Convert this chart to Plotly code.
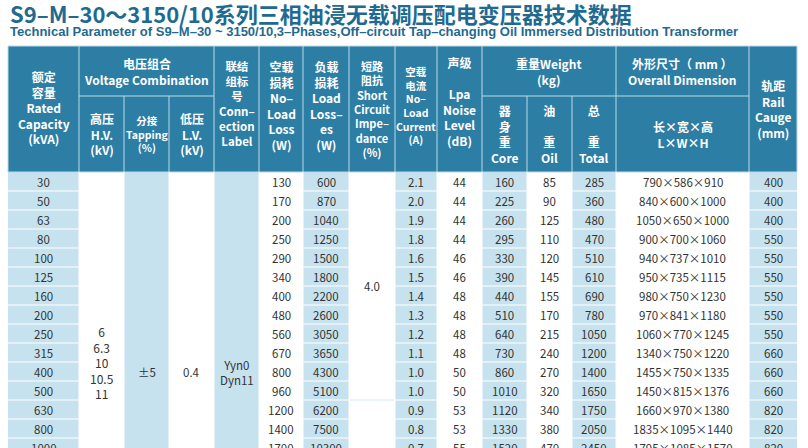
import plotly.graph_objects as go

title = "S9–M–30～3150/10系列三相油浸无载调压配电变压器技术数据"
subtitle = "Technical Parameter of S9–M–30 ~ 3150/10,3–Phases,Off–circuit Tap–changing Oil Immersed Distribution Transformer"

capacity = ["30","50","63","80","100","125","160","200","250","315","400","500","630","800","1000"]
no_load_loss = ["130","170","200","250","290","340","400","480","560","670","800","960","1200","1400","1700"]
load_loss = ["600","870","1040","1250","1500","1800","2200","2600","3050","3650","4300","5100","6200","7500","10300"]
no_load_current = ["2.1","2.0","1.9","1.8","1.6","1.5","1.4","1.3","1.2","1.1","1.0","1.0","0.9","0.8","0.7"]
noise = ["44","44","44","44","46","46","48","48","48","48","50","50","53","53","55"]
core_w = ["160","225","260","295","330","390","440","510","640","730","860","1010","1120","1330","1520"]
oil_w = ["85","90","125","110","120","145","155","170","215","240","270","320","340","380","470"]
total_w = ["285","360","480","470","510","610","690","780","1050","1200","1400","1650","1750","2050","2450"]
dimension = ["790×586×910","840×600×1000","1050×650×1000","900×700×1060","940×737×1010",
             "950×735×1115","980×750×1230","970×841×1180","1060×770×1245","1340×750×1220",
             "1455×750×1335","1450×815×1376","1660×970×1380","1835×1095×1440","1795×1085×1570"]
rail = ["400","400","400","550","550","550","550","550","550","660","660","660","820","820","820"]
hv_text = "6<br>6.3<br>10<br>10.5<br>11"
tap_text = "±5"
lv_text = "0.4"
conn_text = "Yyn0<br>Dyn11"
imp_text = "4.0"

# layout geometry (pixels)
XB = [8,79,124,169,214,259,303,349,395,437,482,527,572,616,749,797]
H_TOP, H_MID, H_BOT = 46, 96, 172
ROW_H = 19
N_ALL = 20

HEAD = "#2d7ea5"
LIGHT = "#c6e2ee"
TXT = "#333333"
shaded = [0,2,4,6,8,10,12,14]

fig = go.Figure()
shapes, ann = [], []
def rect(x0,y0,x1,y1,fill,line="white",w=1):
    shapes.append(dict(type="rect",xref="x",yref="y",x0=x0,x1=x1,y0=y0,y1=y1,
                       fillcolor=fill,line=dict(color=line,width=w),layer="below"))
def text(x,y,t,size=11,color=TXT,bold=False,fam="Noto Sans CJK SC"):
    if bold: t = "<b>"+t+"</b>"
    ann.append(dict(x=x,y=y,xref="x",yref="y",text=t,showarrow=False,
                    font=dict(size=size,color=color,family=fam),xanchor="center",yanchor="middle"))

body_bot = H_BOT + N_ALL*ROW_H
for c in range(15):
    if c in shaded:
        rect(XB[c],H_BOT,XB[c+1],body_bot,LIGHT,line=LIGHT,w=0)
for r in range(1,N_ALL):
    y = H_BOT + r*ROW_H
    for c in range(15):
        if c in shaded and c not in (2,4):
            shapes.append(dict(type="line",xref="x",yref="y",x0=XB[c],x1=XB[c+1],y0=y,y1=y,
                               line=dict(color="white",width=1.2)))
shapes.append(dict(type="line",xref="x",yref="y",x0=XB[7],x1=XB[8],y0=H_BOT+12*ROW_H,y1=H_BOT+12*ROW_H,
                   line=dict(color="#d8e8ee",width=1)))
for c in range(1,15):
    shapes.append(dict(type="line",xref="x",yref="y",x0=XB[c],x1=XB[c],y0=H_BOT,y1=body_bot,
                       line=dict(color="white",width=1)))

rect(XB[0],H_TOP,XB[-1],H_BOT,HEAD,line="#bcd8e6",w=1)
for c in range(1,15):
    y0 = H_MID if c in (2,3,11,12) else H_TOP
    shapes.append(dict(type="line",xref="x",yref="y",x0=XB[c],x1=XB[c],y0=y0,y1=H_BOT,
                       line=dict(color="#bcd8e6",width=1)))
for a,b in [(1,4),(10,14)]:
    shapes.append(dict(type="line",xref="x",yref="y",x0=XB[a],x1=XB[b],y0=H_MID,y1=H_MID,
                       line=dict(color="#bcd8e6",width=1)))
W = "white"
def cx(c0,c1=None):
    c1 = c0 if c1 is None else c1
    return (XB[c0]+XB[c1+1])/2
hm = (H_TOP+H_BOT)/2
sm = (H_MID+H_BOT)/2
gm = (H_TOP+H_MID)/2
text(cx(0),hm-2,"额定<br>容量<br>Rated<br>Capacity<br>(kVA)",12,W,True)
text(cx(1,3),gm,"电压组合<br>Voltage Combination",12,W,True)
text(cx(1),sm,"高压<br>H.V.<br>(kV)",12,W,True)
text(cx(2),sm,"分接<br>Tapping<br>(%)",10.5,W,True)
text(cx(3),sm,"低压<br>L.V.<br>(kV)",12,W,True)
text(cx(4),hm-6,"联结<br>组标<br>号<br>Conn–<br>ection<br>Label",11.5,W,True)
text(cx(5),hm-4,"空载<br>损耗<br>No–<br>Load<br>Loss<br>(W)",12,W,True)
text(cx(6),hm-4,"负载<br>损耗<br>Load<br>Loss–<br>es<br>(W)",12,W,True)
text(cx(7),hm,"短路<br>阻抗<br>Short<br>Circuit<br>Impe–<br>dance<br>(%)",11,W,True)
text(cx(8),hm-4,"空载<br>电流<br>No–<br>Load<br>Current<br>(A)",10.5,W,True)
text(cx(9),hm-8,"声级<br><br>Lpa<br>Noise<br>Level<br>(dB)",12,W,True)
text(cx(10,12),gm,"重量Weight<br>(kg)",12,W,True)
text(cx(10),sm,"器<br>身<br>重<br>Core",12,W,True)
text(cx(11),sm,"油<br><br>重<br>Oil",12,W,True)
text(cx(12),sm,"总<br><br>重<br>Total",12,W,True)
text(cx(13),gm,"外形尺寸（ mm ）<br>Overall Dimension",12,W,True)
text(cx(13),sm,"长×宽×高<br>L×W×H",12,W,True)
text(cx(14),hm,"轨距<br>Rail<br>Cauge<br>(mm)",12,W,True)

cols = {0:capacity,5:no_load_loss,6:load_loss,8:no_load_current,9:noise,
        10:core_w,11:oil_w,12:total_w,13:dimension,14:rail}
for c,vals in cols.items():
    for r,v in enumerate(vals):
        text(cx(c),H_BOT+(r+0.5)*ROW_H,v,11.5)
mid_all = H_BOT + N_ALL*ROW_H/2
text(cx(1),mid_all,hv_text,12)
text(cx(2),mid_all+10,tap_text,11.5)
text(cx(3),mid_all+10,lv_text,11.5)
text(cx(4),mid_all+10,conn_text,11.5)
text(cx(7),H_BOT+6*ROW_H,imp_text,11.5)

ann.append(dict(x=8,y=13,xref="x",yref="y",text="<b>"+title+"</b>",showarrow=False,xanchor="left",
                yanchor="middle",font=dict(size=22,color="#1f6a90",family="Noto Sans CJK SC")))
ann.append(dict(x=8,y=31,xref="x",yref="y",text="<b>"+subtitle+"</b>",showarrow=False,xanchor="left",
                yanchor="middle",font=dict(size=13,color="#1f6a90",family="Liberation Sans")))

fig.update_layout(width=808,height=448,margin=dict(l=0,r=0,t=0,b=0),
                  paper_bgcolor="white",plot_bgcolor="white",shapes=shapes,annotations=ann,
                  xaxis=dict(range=[0,808],visible=False,fixedrange=True),
                  yaxis=dict(range=[448,0],visible=False,fixedrange=True),showlegend=False)
fig.write_html("out.html",config={"displayModeBar":False},
               post_script="document.body.style.margin='0';document.body.style.overflow='hidden';")
